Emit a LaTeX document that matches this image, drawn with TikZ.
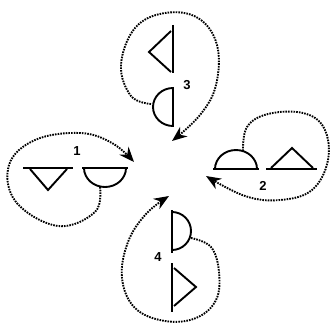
\documentclass[tikz,border=0pt]{standalone}
\usepackage{fontspec}
\setmainfont{Liberation Sans}
\usetikzlibrary{arrows.meta}
\tikzset{
  baseline/.style={line width=2.6pt, line cap=butt},
  shapeline/.style={line width=1.9pt, line join=miter},
  looppath/.style={line width=1.9pt, dash pattern=on 1.6pt off 1.1pt, -{Stealth[length=15pt,width=12pt]}},
  lbl/.style={font=\bfseries\fontsize{13}{13}\selectfont, inner sep=0pt}
}
\begin{document}
\begin{tikzpicture}[x=1pt,y=-1pt]
\useasboundingbox (0,0) rectangle (334,326);
% ---------- group 1 (left)
\draw[baseline] (23,168) -- (73,168);
\draw[shapeline] (30,169) -- (48,190) -- (67,169);
\draw[baseline] (82,168) -- (128,168);
\draw[shapeline] (84,168) arc[start angle=180, end angle=360, x radius=21, y radius=-19];
\node[lbl] (l1) at (77,151) {1};
\coordinate (s1) at (100,187);
\coordinate (t1) at (134,162);
\draw[looppath] plot[smooth, tension=0.65] coordinates {(s1) (95,212) (58,226) (16,202) (9,165) (35,140) (80,133) (112,143) (t1)};
% ---------- group 2 (right)
\draw[baseline] (213,169) -- (259,169);
\draw[shapeline] (215,169) arc[start angle=180, end angle=0, x radius=21, y radius=-19];
\draw[baseline] (266,169) -- (317,169);
\draw[shapeline] (271,168) -- (292,148) -- (313,168);
\node[lbl] (l2) at (263,186) {2};
\coordinate (s2) at (243,151);
\coordinate (t2) at (206,176);
\draw[looppath] plot[smooth, tension=0.65] coordinates {(s2) (247,127) (268,114) (303,113) (324,128) (328,160) (312,190) (280,200) (245,196) (t2)};
% ---------- group 3 (top)
\draw[baseline] (173,25) -- (173,73);
\draw[shapeline] (171,31) -- (149,52) -- (171,72);
\draw[baseline] (173,87) -- (173,127);
\draw[shapeline] (173,88) arc[start angle=90, end angle=270, x radius=20, y radius=-19];
\node[lbl] (l3) at (187,85) {3};
\coordinate (s3) at (151,104);
\coordinate (t3) at (172,141);
\draw[looppath] plot[smooth, tension=0.65] coordinates {(s3) (131,96) (121,65) (135,28) (165,13) (198,18) (217,45) (216,85) (200,115) (t3)};
% ---------- group 4 (bottom)
\draw[baseline] (172,210) -- (172,253);
\draw[shapeline] (172,212) arc[start angle=90, end angle=-90, x radius=19, y radius=-19];
\draw[baseline] (172,263) -- (172,312);
\draw[shapeline] (174,268) -- (196,287) -- (174,306);
\node[lbl] (l4) at (158,257) {4};
\coordinate (s4) at (191,238);
\coordinate (t4) at (169,196);
\draw[looppath] plot[smooth, tension=0.65] coordinates {(s4) (211,247) (219,272) (216,300) (196,318) (165,321) (135,308) (122,278) (128,242) (146,214) (t4)};
\end{tikzpicture}
\end{document}
